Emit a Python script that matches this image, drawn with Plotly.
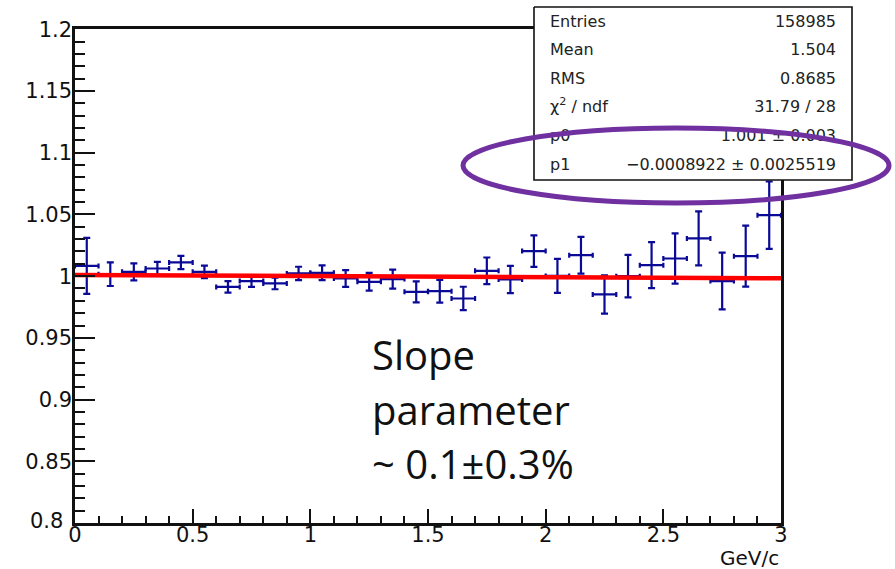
import plotly.graph_objects as go

# Ratio histogram: 30 bins of 0.1 GeV/c from 0 to 3
bin_centers = [round(0.05 + 0.1 * i, 2) for i in range(30)]
ratio = [1.0083, 1.0016, 1.0035, 1.0062, 1.0111, 1.0035, 0.9913, 0.9960, 0.9941, 1.0022,
         1.0027, 0.9981, 0.9954, 0.9976, 0.9873, 0.9878, 0.9819, 1.0043, 0.9973, 1.0203,
         1.0002, 1.0170, 0.9852, 1.0000, 1.0089, 1.0143, 1.0306, 0.9960, 1.0162, 1.0494]
ratio_err = [0.0227, 0.0096, 0.0069, 0.0054, 0.0054, 0.0051, 0.0047, 0.0047, 0.0047, 0.0054,
             0.0060, 0.0068, 0.0072, 0.0077, 0.0085, 0.0092, 0.0095, 0.0108, 0.0111, 0.0128,
             0.0138, 0.0149, 0.0155, 0.0172, 0.0186, 0.0203, 0.0219, 0.0230, 0.0247, 0.0273]
bin_half_width = 0.05

# Linear fit result (pol1)
p0 = 1.001
p1 = -0.0008922
fit_range = [0.0, 3.0]

# Statistics box contents
stat_labels = ["Entries", "Mean", "RMS", "χ<sup>2</sup> / ndf", "p0", "p1"]
stat_values = ["158985", "1.504", "0.8685", "31.79 / 28", "1.001 ± 0.003",
               "−0.0008922 ± 0.0025519"]

W, H = 895, 569
# plot frame in pixels
X0, X1 = 75, 781
Y_TOP, Y_BOT = 29.3, 523

NAVY = "#0a0a96"
AXFONT = dict(family="DejaVu Sans", size=21, color="#111111")

fig = go.Figure()

fig.add_trace(go.Scatter(
    x=bin_centers, y=ratio, mode="markers",
    marker=dict(size=1, color=NAVY),
    error_y=dict(type="data", array=ratio_err, color=NAVY, thickness=2.2, width=3.5),
    error_x=dict(type="constant", value=bin_half_width, color=NAVY, thickness=2.2, width=2.5),
    xaxis="x", yaxis="y", showlegend=False, hoverinfo="skip",
))

fig.add_trace(go.Scatter(
    x=fit_range, y=[p0 + p1 * v for v in fit_range], mode="lines",
    line=dict(color="#ff0000", width=4.5),
    xaxis="x", yaxis="y", showlegend=False, hoverinfo="skip",
))

# Overlay subplot in pixel units for the stats box
BOX = dict(l=534, r=852, t=7, b=180)
fig.add_trace(go.Scatter(
    x=[BOX["l"], BOX["r"], BOX["r"], BOX["l"], BOX["l"]],
    y=[BOX["t"], BOX["t"], BOX["b"], BOX["b"], BOX["t"]],
    mode="lines", fill="toself", fillcolor="white",
    line=dict(color="#111111", width=1.6),
    xaxis="x2", yaxis="y2", showlegend=False, hoverinfo="skip",
))
row_y = [23, 51, 80, 108, 137, 166]
STATFONT = dict(family="DejaVu Sans", size=16, color="#222222")
fig.add_trace(go.Scatter(
    x=[550] * len(stat_labels), y=row_y, mode="text", text=stat_labels,
    textposition="middle right", textfont=STATFONT,
    xaxis="x2", yaxis="y2", showlegend=False, hoverinfo="skip", cliponaxis=False,
))
fig.add_trace(go.Scatter(
    x=[836] * len(stat_values), y=row_y, mode="text", text=stat_values,
    textposition="middle left", textfont=STATFONT,
    xaxis="x2", yaxis="y2", showlegend=False, hoverinfo="skip", cliponaxis=False,
))

fig.update_layout(
    width=W, height=H,
    margin=dict(l=0, r=0, t=0, b=0, pad=0, autoexpand=False),
    paper_bgcolor="white", plot_bgcolor="rgba(0,0,0,0)",
    xaxis=dict(
        domain=[X0 / W, X1 / W], range=[0, 3], anchor="y", automargin=False,
        tickmode="array", tickvals=[0, 0.5, 1, 1.5, 2, 2.5, 3],
        ticktext=["0", "0.5", "1", "1.5", "2", "2.5", "3"],
        ticks="inside", ticklen=14, tickwidth=2, tickcolor="#111111",
        minor=dict(dtick=0.1, tick0=0, ticks="inside", ticklen=7, tickwidth=2, tickcolor="#111111"),
        showline=True, linewidth=2.5, linecolor="#111111", mirror=True,
        showgrid=False, zeroline=False, tickfont=AXFONT, ticklabelstandoff=-9,
    ),
    yaxis=dict(
        domain=[(H - Y_BOT) / H, (H - Y_TOP) / H], range=[0.8, 1.2], anchor="x", automargin=False,
        tickmode="array", tickvals=[0.85, 0.9, 0.95, 1, 1.05, 1.1, 1.15, 1.2],
        ticktext=["0.85", "0.9", "0.95", "1", "1.05", "1.1", "1.15", "1.2"],
        ticks="inside", ticklen=20, tickwidth=2, tickcolor="#111111",
        minor=dict(dtick=0.01, tick0=0.8, ticks="inside", ticklen=10, tickwidth=2, tickcolor="#111111"),
        showline=True, linewidth=2.5, linecolor="#111111", mirror=True,
        showgrid=False, zeroline=False, tickfont=AXFONT, ticklabelstandoff=-4,
    ),
    xaxis2=dict(domain=[0, 1], range=[0, W], anchor="y2", visible=False,
                fixedrange=True, automargin=False),
    yaxis2=dict(domain=[0, 1], range=[H, 0], anchor="x2", visible=False,
                fixedrange=True, automargin=False),
)

# 0.8 label, shifted left of the x-axis origin label
fig.add_annotation(x=65, y=521, xref="x2", yref="y2", text="0.8", showarrow=False,
                   xanchor="right", yanchor="middle", font=AXFONT)
# x-axis title
fig.add_annotation(x=781, y=558, xref="x2", yref="y2", text="GeV/c", showarrow=False,
                   xanchor="right", yanchor="middle", font=dict(family="DejaVu Sans", size=20, color="#111111"))

# Highlight around the slope parameter
fig.add_shape(type="circle", xref="x2", yref="y2", x0=463, x1=889, y0=128, y1=203,
              line=dict(color="#7030a0", width=5), fillcolor="rgba(0,0,0,0)", layer="above")

# Slide note
note_lines = ["Slope", "parameter", "~ 0.1±0.3%"]
note_y = [354, 409, 463]
for txt, yy in zip(note_lines, note_y):
    fig.add_annotation(x=370, y=yy, xref="x2", yref="y2", text=txt, showarrow=False,
                       xanchor="left", yanchor="middle",
                       font=dict(family="Open Sans", size=40, color="#111111"))

fig.write_html("out.html")
